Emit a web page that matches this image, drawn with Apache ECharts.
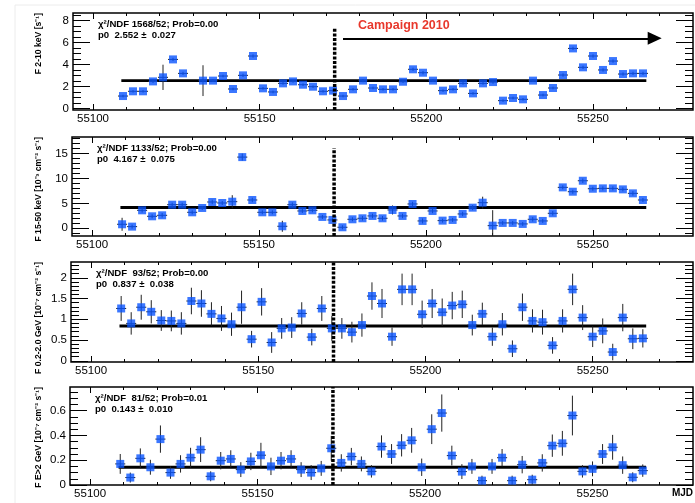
<!DOCTYPE html>
<html>
<head>
<meta charset="utf-8">
<script src="https://cdn.jsdelivr.net/npm/echarts@6/dist/echarts.min.js"></script>
<style>
html, body { margin: 0; padding: 0; background: #fff; }
#main { width: 695px; height: 503px; }
</style>
</head>
<body>
<div id="main"></div>
<script>
// observation days (MJD), 3-day bins
var mjd = [55109, 55112, 55115, 55118, 55121, 55124, 55127, 55130, 55133, 55136,
           55139, 55142, 55145, 55148, 55151, 55154, 55157, 55160, 55163, 55166,
           55169, 55172, 55175, 55178, 55181, 55184, 55187, 55190, 55193, 55196,
           55199, 55202, 55205, 55208, 55211, 55214, 55217, 55220, 55223, 55226,
           55229, 55232, 55235, 55238, 55241, 55244, 55247, 55250, 55253, 55256,
           55259, 55262, 55265];
var binHalfWidth = 1.5;

// F 2-10 keV
var fluxXrt = [1.15, 1.58, 1.58, 2.48, 2.85, 4.48, 3.21, null, 2.55, 2.55,
               2.97, 1.79, 3.03, 4.79, 1.85, 1.52, 2.30, 2.48, 2.18, 2.00,
               1.58, 1.64, 1.15, 1.76, 2.55, 1.88, 1.76, 1.76, 2.45, 3.58,
               3.27, 2.55, 1.64, 1.76, 2.30, 1.39, 2.30, 2.42, 0.73, 0.97,
               0.85, 2.55, 1.24, 1.88, 3.06, 5.48, 3.76, 4.79, 3.52, 4.33,
               3.15, 3.21, 3.21];
var errXrt = [0.12, 0.12, 0.12, 0.15, 1.15, 0.15, 0.15, null, 1.40, 0.12,
              0.12, 0.12, 0.15, 0.15, 0.12, 0.12, 0.12, 0.12, 0.12, 0.12,
              0.12, 0.12, 0.12, 0.12, 0.15, 0.12, 0.12, 0.12, 0.12, 0.15,
              0.15, 0.12, 0.12, 0.12, 0.12, 0.12, 0.12, 0.15, 0.12, 0.12,
              0.12, 0.12, 0.12, 0.12, 0.15, 0.15, 0.15, 0.15, 0.15, 0.15,
              0.15, 0.15, 0.15];

// F 15-50 keV
var fluxBat = [0.80, 0.33, 3.60, 2.40, 2.60, 4.73, 4.73, 3.20, 4.07, 5.27,
               5.07, 5.33, 14.27, 5.67, 3.20, 3.20, 0.40, 4.73, 3.47, 3.60,
               2.27, 1.67, 0.20, 1.80, 2.00, 2.47, 2.00, 3.67, 2.47, 4.87,
               1.47, 3.47, 1.53, 1.67, 2.87, 4.13, 5.13, 0.53, 1.07, 1.07,
               0.87, 1.80, 1.47, 3.00, 8.20, 7.33, 9.53, 7.93, 8.00, 8.00,
               7.80, 7.00, 5.67];
var errBat = [1.30, 0.40, 0.45, 0.40, 0.45, 0.40, 0.40, 0.40, 0.40, 0.45,
              0.40, 1.30, 0.70, 0.45, 0.40, 0.40, 1.10, 0.45, 0.40, 0.40,
              0.40, 0.40, 0.40, 0.40, 0.45, 0.45, 0.45, 0.90, 0.45, 0.45,
              0.50, 0.45, 0.40, 0.40, 0.45, 0.50, 1.20, 3.10, 0.40, 0.40,
              0.40, 0.45, 0.40, 0.45, 0.40, 0.40, 0.45, 0.40, 0.40, 0.40,
              0.40, 0.45, 0.40];

// F 0.2-2.0 GeV
var fluxLow = [1.26, 0.90, 1.29, 1.18, 0.97, 0.96, 0.90, 1.44, 1.38, 1.13,
               1.02, 0.88, 1.29, 0.52, 1.42, 0.44, 0.78, 0.80, 1.14, 0.57,
               1.26, 0.78, 0.78, 0.69, 0.86, 1.56, 1.38, 0.58, 1.72, 1.72,
               1.12, 1.38, 1.17, 1.33, 1.36, 0.86, 1.13, 0.58, 0.88, 0.29,
               1.29, 0.96, 0.93, 0.37, 0.96, 1.72, 1.04, 0.58, 0.72, 0.21,
               1.04, 0.53, 0.54];
var errLow = [0.30, 0.27, 0.30, 0.28, 0.25, 0.25, 0.27, 0.32, 0.32, 0.28,
              0.30, 0.28, 0.40, 0.20, 0.33, 0.25, 0.25, 0.25, 0.27, 0.20,
              0.30, 0.30, 0.25, 0.25, 0.28, 0.33, 0.35, 0.22, 0.38, 0.38,
              0.33, 0.35, 0.33, 0.33, 0.33, 0.25, 0.27, 0.22, 0.27, 0.20,
              0.33, 0.28, 0.30, 0.20, 0.28, 0.38, 0.30, 0.25, 0.30, 0.20,
              0.33, 0.25, 0.22];

// F E>2 GeV
var fluxHigh = [0.170, 0.060, 0.215, 0.143, 0.370, 0.100, 0.170, 0.220, 0.285, 0.070,
                0.196, 0.210, 0.124, 0.190, 0.240, 0.150, 0.196, 0.210, 0.124, 0.100,
                0.134, 0.296, 0.178, 0.229, 0.170, 0.110, 0.310, 0.250, 0.320, 0.360,
                0.143, 0.450, 0.580, 0.237, 0.108, 0.150, 0.035, 0.150, 0.220, 0.035,
                0.164, 0.043, 0.178, 0.317, 0.336, 0.560, 0.110, 0.130, 0.250, 0.304,
                0.160, 0.062, 0.116];
var errHigh = [0.08, 0.04, 0.08, 0.06, 0.11, 0.05, 0.07, 0.08, 0.10, 0.04,
               0.07, 0.07, 0.06, 0.07, 0.10, 0.07, 0.07, 0.07, 0.06, 0.06,
               0.06, 0.10, 0.07, 0.07, 0.06, 0.05, 0.09, 0.08, 0.09, 0.10,
               0.07, 0.12, 0.15, 0.08, 0.06, 0.06, 0.04, 0.06, 0.07, 0.04,
               0.07, 0.04, 0.07, 0.09, 0.10, 0.16, 0.05, 0.06, 0.08, 0.10,
               0.07, 0.04, 0.05];

// constant fits
var fitP0 = [2.552, 4.167, 0.837, 0.143];
var fitRange = [55108.5, 55266];
var chiText = ['\u03c7\u00b2/NDF 1568/52; Prob=0.00', '\u03c7\u00b2/NDF 1133/52; Prob=0.00',
               '\u03c7\u00b2/NDF  93/52; Prob=0.00', '\u03c7\u00b2/NDF  81/52; Prob=0.01'];
var p0Text = ['p0  2.552 \u00b1  0.027', 'p0  4.167 \u00b1  0.075',
              'p0  0.837 \u00b1  0.038', 'p0  0.143 \u00b1  0.010'];
var yTitles = ['F 2-10 keV [s\u207b\u00b9]',
               'F 15-50 keV [10\u207b\u00b3 cm\u207b\u00b2 s\u207b\u00b9]',
               'F 0.2-2.0 GeV [10\u207b\u2077 cm\u207b\u00b2 s\u207b\u00b9]',
               'F E>2 GeV [10\u207b\u2077 cm\u207b\u00b2 s\u207b\u00b9]'];

// campaign start marker
var campaignStart = 55172.5;
var dashTop = [7.4, 16.1, 2.38, 0.79];
var arrowFrom = 55175, arrowTo = 55268.5, arrowLevel = 6.4;

// axes
var xMin = 55094, xMax = 55280;
var xMajor = [55100, 55150, 55200, 55250];
var xMinor = [55110, 55120, 55130, 55140, 55160, 55170, 55180,
              55190, 55210, 55220, 55230, 55240, 55260, 55270];
var yMin = [-0.12, -1.55, -0.03, 0];
var yMax = [8.7, 18.3, 2.38, 0.79];
var yMajor = [[0, 2, 4, 6, 8], [0, 5, 10, 15], [0, 0.5, 1, 1.5, 2], [0, 0.2, 0.4, 0.6]];
var yMinorStep = [0.5, 1, 0.1, 0.05];

var fluxes = [fluxXrt, fluxBat, fluxLow, fluxHigh];
var errors = [errXrt, errBat, errLow, errHigh];

// layout
var panelLeft = [73, 72, 71, 70];
var panelTop = [13, 137, 262, 387];
var panelHeight = [97, 99, 100, 98];

var tickFont = "'Liberation Sans Narrow', 'Liberation Sans', Arial, sans-serif";
var boldFont = "'Liberation Sans', Arial, sans-serif";
var markerColor = '#0a55ff';

function minorTicks(lo, hi, step) {
    var out = [];
    for (var k = Math.ceil(lo / step - 1e-6); k * step <= hi + 1e-9; k++) {
        out.push(Math.round(k * step * 1000) / 1000);
    }
    return out;
}

function renderErr(params, api) {
    var x = api.value(0), y = api.value(1), e = api.value(2);
    var lo = api.coord([x, y - e]), hi = api.coord([x, y + e]);
    var l = api.coord([x - binHalfWidth, y]), r = api.coord([x + binHalfWidth, y]);
    var st = { stroke: '#222', lineWidth: 1 };
    return {
        type: 'group',
        children: [
            { type: 'line', shape: { x1: lo[0], y1: lo[1], x2: hi[0], y2: hi[1] }, style: st },
            { type: 'line', shape: { x1: l[0], y1: l[1], x2: r[0], y2: r[1] }, style: st }
        ]
    };
}

var dom = document.getElementById('main');
var myChart = echarts.init(dom);

var grid = [], xAxis = [], yAxis = [], series = [], graphic = [];

graphic.push({
    type: 'rect', silent: true, z: -10,
    shape: { x: 15, y: 5, width: 700, height: 600 },
    style: { fill: 'none', stroke: '#ececec', lineWidth: 1 }
});

function plainNum(v) { return String(v); }

for (var p = 0; p < 4; p++) {
    var yMinorVals = minorTicks(yMin[p], yMax[p], yMinorStep[p]);
    // one grid per tick set, all stacked on the same frame:
    // [x side, x ticks, x len, y side, y ticks, y len, labels]
    var roles = [
        ['bottom', xMajor, 6, 'left', yMajor[p], 17, true],
        ['bottom', xMinor, 3, 'left', yMinorVals, 8, false],
        ['top', xMajor, 6, 'right', yMajor[p], 17, false],
        ['top', xMinor, 3, 'right', yMinorVals, 8, false]
    ];
    var base = grid.length;
    roles.forEach(function (r, k) {
        var gi = grid.length;
        grid.push({
            left: panelLeft[p], right: 2, top: panelTop[p], height: panelHeight[p],
            show: k === 0, borderColor: '#000', borderWidth: 1.5, backgroundColor: 'transparent'
        });
        xAxis.push({
            gridIndex: gi, type: 'value', min: xMin, max: xMax, position: r[0],
            axisLine: { show: false, onZero: false },
            splitLine: { show: false },
            axisTick: { show: true, inside: true, length: r[2], customValues: r[1],
                        lineStyle: { color: '#000', width: 1 } },
            axisLabel: r[6] ? { show: true, customValues: xMajor, margin: 3, formatter: plainNum,
                                color: '#000', fontSize: 11.5, fontFamily: tickFont }
                            : { show: false }
        });
        yAxis.push({
            gridIndex: gi, type: 'value', min: yMin[p], max: yMax[p], position: r[3],
            axisLine: { show: false, onZero: false },
            splitLine: { show: false },
            axisTick: { show: true, inside: true, length: r[5], customValues: r[4],
                        lineStyle: { color: '#000', width: 1 } },
            axisLabel: r[6] ? { show: true, customValues: yMajor[p], margin: 4, formatter: plainNum,
                                color: '#000', fontSize: 11.5, fontFamily: tickFont }
                            : { show: false }
        });
    });

    var errData = [], ptData = [];
    for (var i = 0; i < mjd.length; i++) {
        if (fluxes[p][i] === null) continue;
        errData.push([mjd[i], fluxes[p][i], errors[p][i]]);
        ptData.push([mjd[i], fluxes[p][i]]);
    }

    var fitSeries = {
        type: 'line', xAxisIndex: base, yAxisIndex: base,
        data: [[fitRange[0], fitP0[p]], [fitRange[1], fitP0[p]]],
        symbol: 'none', silent: true, z: 3,
        lineStyle: { color: '#000', width: 2.8 }
    };
    if (p === 0) {
        fitSeries.markLine = {
            silent: true, symbol: ['none', 'triangle'], symbolSize: [13, 14],
            lineStyle: { color: '#000', width: 2, type: 'solid' },
            label: { show: false },
            data: [[{ coord: [arrowFrom, arrowLevel] }, { coord: [arrowTo, arrowLevel] }]]
        };
    }
    series.push(fitSeries);

    series.push({
        type: 'custom', xAxisIndex: base, yAxisIndex: base,
        renderItem: renderErr, data: errData, clip: true, silent: true, z: 4
    });
    series.push({
        type: 'scatter', xAxisIndex: base, yAxisIndex: base,
        data: ptData, symbol: 'rect', symbolSize: 8, silent: true, z: 5,
        itemStyle: { color: markerColor }
    });
    series.push({
        type: 'line', xAxisIndex: base, yAxisIndex: base,
        data: [[campaignStart, yMin[p]], [campaignStart, dashTop[p]]],
        symbol: 'none', silent: true, z: 6,
        lineStyle: { color: '#000', width: 3.5, type: [3, 1.6] }
    });

    graphic.push({
        type: 'text', left: panelLeft[p] + 25, top: panelTop[p] + 6, silent: true,
        style: { text: chiText[p] + '\n' + p0Text[p], font: 'bold 9.6px ' + boldFont,
                 fill: '#000', lineHeight: 11 }
    });
    graphic.push({
        type: 'text', x: 39, y: panelTop[p], rotation: Math.PI / 2, silent: true,
        style: { text: yTitles[p], font: 'bold 8.6px ' + boldFont, fill: '#000',
                 align: 'right', verticalAlign: 'middle' }
    });
}

graphic.push({
    type: 'text', left: 358, top: 19, silent: true,
    style: { text: 'Campaign 2010', font: 'bold 12.5px ' + boldFont, fill: '#e8382c' }
});
graphic.push({
    type: 'text', right: 2, top: 488, silent: true,
    style: { text: 'MJD', font: 'bold 10px ' + boldFont, fill: '#000' }
});

var option = {
    backgroundColor: '#fff',
    animation: false,
    grid: grid,
    xAxis: xAxis,
    yAxis: yAxis,
    series: series,
    graphic: graphic
};

if (option && typeof option === "object") {
    myChart.setOption(option, true);
}

window.addEventListener("resize", function () {
    myChart.resize();
});
</script>
</body>
</html>
